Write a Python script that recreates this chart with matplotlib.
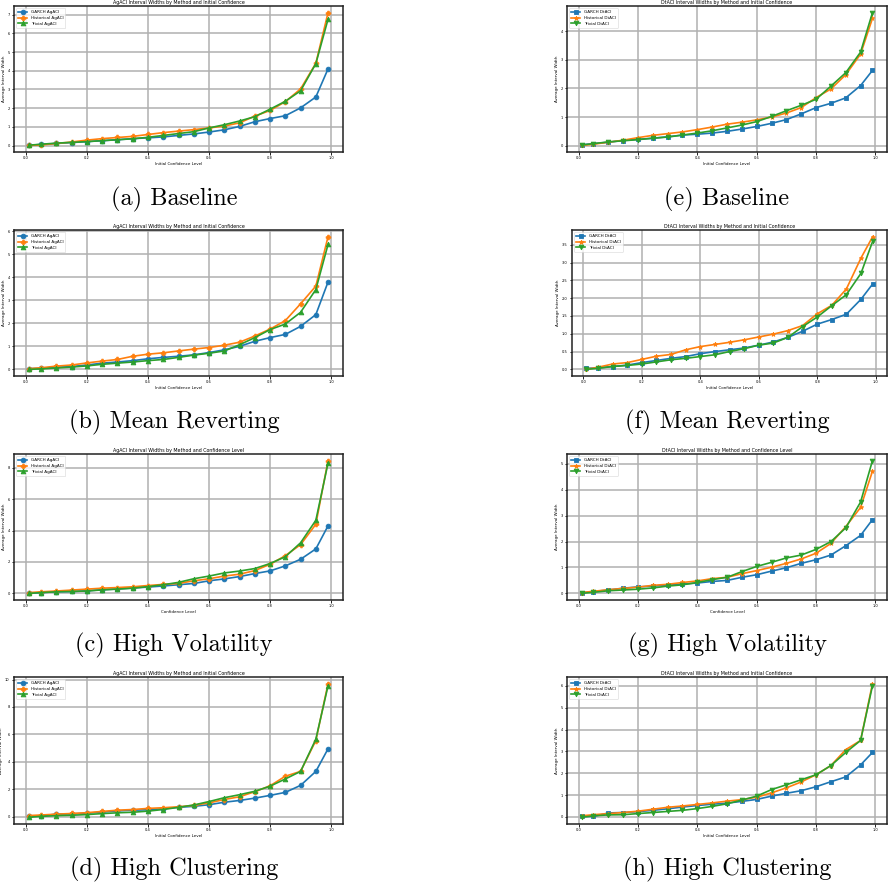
import numpy as np
import matplotlib
matplotlib.use("Agg")
import matplotlib.pyplot as plt

conf = [0.01, 0.05, 0.10, 0.15, 0.20, 0.25, 0.30, 0.35, 0.40, 0.45, 0.50,
        0.55, 0.60, 0.65, 0.70, 0.75, 0.80, 0.85, 0.90, 0.95, 0.99]

# ---- AgACI ----
ag_base_garch = [0.02, 0.07, 0.12, 0.17, 0.22, 0.27, 0.32, 0.38, 0.42, 0.47, 0.55,
                 0.63, 0.73, 0.85, 1.03, 1.28, 1.45, 1.60, 2.02, 2.60, 4.10]
ag_base_hist = [0.02, 0.04, 0.12, 0.20, 0.30, 0.38, 0.44, 0.50, 0.60, 0.70, 0.78,
                0.86, 0.95, 1.05, 1.22, 1.58, 1.88, 2.35, 3.03, 4.40, 7.10]
ag_base_triv = [0.03, 0.08, 0.14, 0.18, 0.22, 0.27, 0.32, 0.37, 0.45, 0.55, 0.65,
                0.75, 0.95, 1.12, 1.32, 1.55, 1.95, 2.37, 2.93, 4.38, 6.75]

ag_mr_garch = [0.03, 0.05, 0.09, 0.12, 0.19, 0.27, 0.32, 0.38, 0.46, 0.52, 0.57,
               0.63, 0.73, 0.85, 1.00, 1.22, 1.38, 1.52, 1.87, 2.38, 3.80]
ag_mr_hist = [0.03, 0.07, 0.14, 0.19, 0.28, 0.36, 0.43, 0.57, 0.66, 0.72, 0.80,
              0.88, 0.95, 1.05, 1.18, 1.45, 1.75, 2.12, 2.85, 3.62, 5.77]
ag_mr_triv = [0.00, 0.02, 0.06, 0.10, 0.15, 0.22, 0.27, 0.32, 0.38, 0.43, 0.52,
              0.62, 0.70, 0.80, 1.07, 1.38, 1.73, 1.97, 2.48, 3.47, 5.43]

ag_hv_garch = [0.00, 0.05, 0.10, 0.12, 0.16, 0.23, 0.28, 0.34, 0.40, 0.47, 0.55,
               0.63, 0.80, 0.92, 1.07, 1.26, 1.43, 1.75, 2.17, 2.83, 4.30]
ag_hv_hist = [0.05, 0.10, 0.15, 0.21, 0.27, 0.33, 0.37, 0.42, 0.50, 0.57, 0.63,
              0.80, 0.93, 1.10, 1.22, 1.45, 1.85, 2.40, 3.10, 4.40, 8.45]
ag_hv_triv = [0.00, 0.05, 0.10, 0.12, 0.15, 0.22, 0.27, 0.33, 0.43, 0.55, 0.70,
              0.93, 1.10, 1.30, 1.42, 1.58, 1.90, 2.33, 3.22, 4.65, 8.30]

ag_hc_garch = [0.03, 0.06, 0.18, 0.20, 0.25, 0.33, 0.42, 0.47, 0.50, 0.58, 0.68,
               0.75, 0.87, 1.05, 1.18, 1.35, 1.55, 1.77, 2.28, 3.30, 4.95]
ag_hc_hist = [0.08, 0.12, 0.18, 0.23, 0.29, 0.38, 0.47, 0.52, 0.60, 0.65, 0.72,
              0.82, 1.00, 1.25, 1.45, 1.82, 2.25, 2.95, 3.30, 5.55, 9.70]
ag_hc_triv = [-0.05, 0.02, 0.07, 0.10, 0.15, 0.22, 0.28, 0.32, 0.40, 0.52, 0.68,
              0.85, 1.10, 1.38, 1.60, 1.85, 2.22, 2.75, 3.30, 5.65, 9.55]

# ---- DtACI ----
dt_base_garch = [0.03, 0.07, 0.12, 0.18, 0.22, 0.26, 0.31, 0.37, 0.40, 0.44, 0.50,
                 0.58, 0.67, 0.78, 0.91, 1.11, 1.33, 1.48, 1.67, 2.10, 2.63]
dt_base_hist = [0.01, 0.05, 0.12, 0.19, 0.28, 0.36, 0.42, 0.48, 0.56, 0.65, 0.75,
                0.82, 0.90, 1.00, 1.14, 1.33, 1.68, 1.98, 2.48, 3.20, 4.45]
dt_base_triv = [0.02, 0.07, 0.13, 0.17, 0.21, 0.26, 0.30, 0.37, 0.44, 0.52, 0.62,
                0.72, 0.84, 1.02, 1.22, 1.41, 1.62, 2.08, 2.55, 3.27, 4.65]

dt_mr_garch = [0.03, 0.04, 0.08, 0.12, 0.19, 0.25, 0.31, 0.36, 0.44, 0.50, 0.55,
               0.60, 0.68, 0.77, 0.90, 1.07, 1.27, 1.40, 1.55, 1.97, 2.40]
dt_mr_hist = [0.00, 0.06, 0.15, 0.19, 0.28, 0.37, 0.42, 0.55, 0.64, 0.70, 0.76,
              0.83, 0.91, 0.99, 1.09, 1.23, 1.56, 1.80, 2.26, 3.13, 3.73]
dt_mr_triv = [0.00, 0.03, 0.08, 0.11, 0.15, 0.21, 0.27, 0.31, 0.36, 0.41, 0.50,
              0.58, 0.68, 0.74, 0.90, 1.20, 1.47, 1.79, 2.10, 2.70, 3.60]

dt_hv_garch = [0.02, 0.07, 0.13, 0.20, 0.25, 0.28, 0.32, 0.36, 0.40, 0.46, 0.50,
               0.62, 0.72, 0.86, 0.99, 1.16, 1.30, 1.48, 1.84, 2.24, 2.85]
dt_hv_hist = [0.03, 0.08, 0.14, 0.19, 0.24, 0.31, 0.35, 0.42, 0.48, 0.57, 0.62,
              0.76, 0.88, 1.01, 1.16, 1.33, 1.55, 1.93, 2.58, 3.32, 4.72]
dt_hv_triv = [0.00, 0.04, 0.10, 0.13, 0.16, 0.21, 0.28, 0.33, 0.42, 0.53, 0.62,
              0.84, 1.04, 1.20, 1.37, 1.48, 1.70, 2.00, 2.53, 3.53, 5.13]

dt_hc_garch = [0.02, 0.02, 0.18, 0.20, 0.24, 0.30, 0.37, 0.45, 0.52, 0.58, 0.63,
               0.71, 0.80, 0.95, 1.08, 1.20, 1.38, 1.61, 1.83, 2.38, 2.95]
dt_hc_hist = [0.05, 0.10, 0.15, 0.20, 0.26, 0.35, 0.44, 0.50, 0.57, 0.64, 0.72,
              0.79, 0.90, 1.10, 1.33, 1.60, 1.93, 2.35, 3.08, 3.50, 6.10]
dt_hc_triv = [-0.02, 0.05, 0.09, 0.10, 0.15, 0.20, 0.25, 0.30, 0.38, 0.48, 0.60,
              0.77, 0.95, 1.25, 1.47, 1.70, 1.93, 2.35, 2.95, 3.50, 6.00]

titles_ag = ["AgACI Interval Widths by Method and Initial Confidence",
             "AgACI Interval Widths by Method and Initial Confidence",
             "AgACI Interval Widths by Method and Confidence Level",
             "AgACI Interval Widths by Method and Initial Confidence"]
titles_dt = ["DtACI Interval Widths by Method and Initial Confidence",
             "DtACI Interval Widths by Method and Initial Confidence",
             "DtACI Interval Widths by Method and Confidence Level",
             "DtACI Interval Widths by Method and Initial Confidence"]
xlabels = ["Initial Confidence Level", "Initial Confidence Level",
           "Confidence Level", "Initial Confidence Level"]
captions_left = ["(a) Baseline", "(b) Mean Reverting", "(c) High Volatility", "(d) High Clustering"]
captions_right = ["(e) Baseline", "(f) Mean Reverting", "(g) High Volatility", "(h) High Clustering"]
methods = ["GARCH", "Historical", "Trivial"]

ag_data = [(ag_base_garch, ag_base_hist, ag_base_triv),
           (ag_mr_garch, ag_mr_hist, ag_mr_triv),
           (ag_hv_garch, ag_hv_hist, ag_hv_triv),
           (ag_hc_garch, ag_hc_hist, ag_hc_triv)]
dt_data = [(dt_base_garch, dt_base_hist, dt_base_triv),
           (dt_mr_garch, dt_mr_hist, dt_mr_triv),
           (dt_hv_garch, dt_hv_hist, dt_hv_triv),
           (dt_hc_garch, dt_hc_hist, dt_hc_triv)]

colors = ["#1f77b4", "#ff7f0e", "#2ca02c"]
ag_markers = ["o", "P", "^"]
dt_markers = ["s", "*", "v"]

W, H = 888, 890
fig = plt.figure(figsize=(W / 100, H / 100), dpi=100)
fig.patch.set_facecolor("white")


def px_axes(left, top, right, bottom):
    return fig.add_axes([left / W, 1 - bottom / H, (right - left) / W, (bottom - top) / H])


tops = [6, 230, 454, 677]
bots = [152, 376, 600, 824]
cap_y = [199, 422, 645, 869]
right_lefts = [567, 572, 567, 567]


def draw(ax, series, markers, suffix, title, xlabel):
    for vals, m, c, name in zip(series, markers, colors, methods):
        ax.plot(conf, vals, marker=m, color=c, lw=1.2, ms=3.4, mew=0.6,
                label=f"{name} {suffix}")
    ax.set_title(title, fontsize=3.4, pad=1.5)
    ax.set_xlabel(xlabel, fontsize=2.9, labelpad=1.5)
    ax.set_ylabel("Average Interval Width", fontsize=2.9, labelpad=1.2)
    ax.tick_params(labelsize=2.6, length=1.8, width=0.6, pad=1.3)
    ax.grid(True, color="#b0b0b0", lw=1.1)
    for s in ax.spines.values():
        s.set_linewidth(1.1)
        s.set_color("#222222")
    leg = ax.legend(loc="upper left", fontsize=3.0, handlelength=2.2,
                    borderpad=0.5, labelspacing=0.45, framealpha=0.8)
    leg.get_frame().set_linewidth(0.4)


for i in range(4):
    axl = px_axes(14, tops[i], 343, bots[i])
    draw(axl, ag_data[i], ag_markers, "AgACI", titles_ag[i], xlabels[i])
    axr = px_axes(right_lefts[i], tops[i], 887, bots[i])
    draw(axr, dt_data[i], dt_markers, "DtACI", titles_dt[i], xlabels[i])
    fig.text(174 / W, 1 - cap_y[i] / H, captions_left[i], ha="center", va="center",
             fontsize=17.5, family="cmr10")
    fig.text(727 / W, 1 - cap_y[i] / H, captions_right[i], ha="center", va="center",
             fontsize=17.5, family="cmr10")

fig.savefig("out.png", dpi=100)
